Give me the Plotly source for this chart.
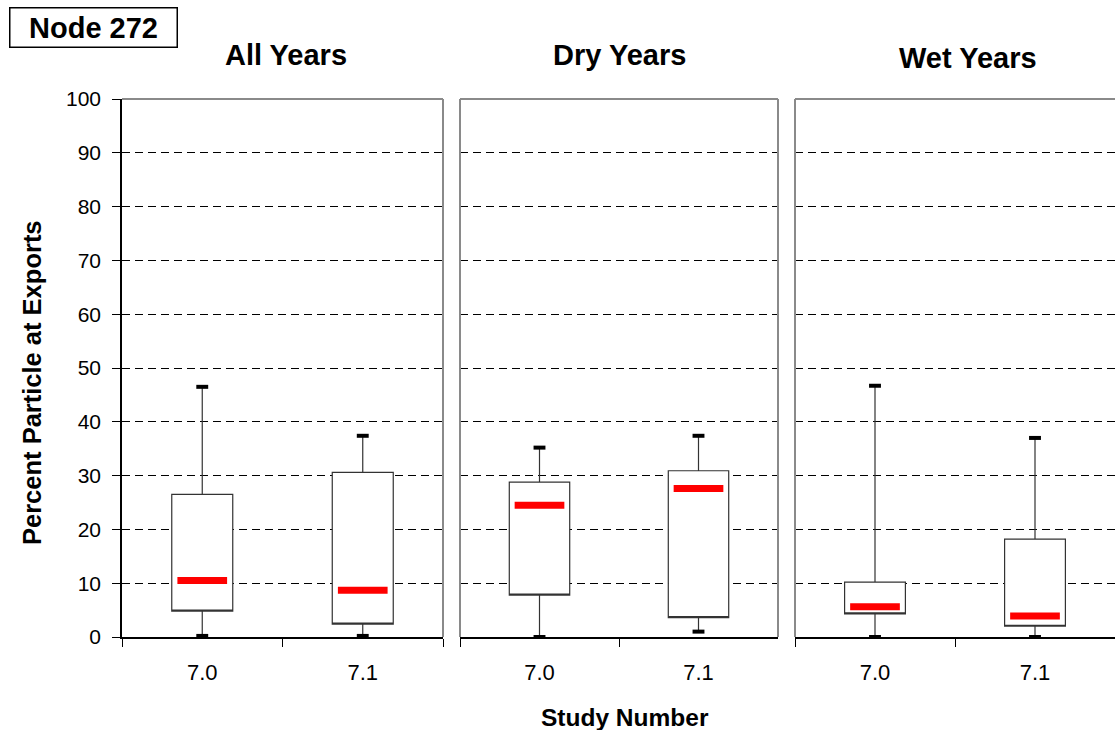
import plotly.graph_objects as go

# ---- data ----
categories = ["7.0", "7.1"]
panel_titles = ["All Years", "Dry Years", "Wet Years"]

all_min = [0.2, 0.2]
all_q1 = [4.8, 2.4]
all_med = [10.5, 8.7]
all_q3 = [26.5, 30.6]
all_max = [46.5, 37.4]

dry_min = [0.0, 1.0]
dry_q1 = [7.8, 3.6]
dry_med = [24.5, 27.6]
dry_q3 = [28.8, 30.9]
dry_max = [35.2, 37.4]

wet_min = [0.0, 0.0]
wet_q1 = [4.3, 2.0]
wet_med = [5.6, 3.9]
wet_q3 = [10.2, 18.2]
wet_max = [46.7, 37.0]

y_ticks = [0, 10, 20, 30, 40, 50, 60, 70, 80, 90, 100]

panels = [
    (all_min, all_q1, all_med, all_q3, all_max),
    (dry_min, dry_q1, dry_med, dry_q3, dry_max),
    (wet_min, wet_q1, wet_med, wet_q3, wet_max),
]

W, H = 1115, 730
FONT = "Liberation Sans, Arial, sans-serif"

x_domains = [(122 / W, 443 / W), (460 / W, 778 / W), (795 / W, 1.0)]
y_domain = (1 - 637 / H, 1 - 99 / H)

fig = go.Figure()

for i, (mn, q1, md, q3, mx) in enumerate(panels):
    xa = "x" if i == 0 else f"x{i+1}"
    ya = "y" if i == 0 else f"y{i+1}"
    # box body + whiskers (the median is drawn separately as a red bar,
    # so the box's own median line is folded onto q1 to keep it hidden)
    fig.add_trace(go.Box(
        x=categories, q1=q1, median=q1, q3=q3, lowerfence=mn, upperfence=mx,
        xaxis=xa, yaxis=ya, width=0.38, whiskerwidth=0,
        fillcolor="white", line=dict(color="#333333", width=1.2),
        boxpoints=False, hoverinfo="skip", showlegend=False,
    ))
    # whisker caps
    fig.add_trace(go.Scatter(
        x=categories + categories, y=mn + mx, mode="markers",
        xaxis=xa, yaxis=ya, cliponaxis=False,
        marker=dict(symbol="line-ew", size=8.5, color="black",
                    line=dict(color="black", width=4)),
        hoverinfo="skip", showlegend=False,
    ))
    # red median bars
    fig.add_trace(go.Scatter(
        x=categories, y=md, mode="markers",
        xaxis=xa, yaxis=ya, cliponaxis=False,
        marker=dict(symbol="line-ew", size=35.5, color="red",
                    line=dict(color="red", width=7)),
        hoverinfo="skip", showlegend=False,
    ))

layout = dict(
    width=W, height=H,
    margin=dict(l=0, r=0, t=0, b=0),
    paper_bgcolor="white", plot_bgcolor="white",
    font=dict(family=FONT, color="black"),
    showlegend=False,
)

for i in range(3):
    xk = "xaxis" if i == 0 else f"xaxis{i+1}"
    yk = "yaxis" if i == 0 else f"yaxis{i+1}"
    ya = "y" if i == 0 else f"y{i+1}"
    layout[xk] = dict(
        domain=list(x_domains[i]), anchor=ya, type="category",
        categoryorder="array", categoryarray=categories,
        range=[-0.5, 1.5], tickson="boundaries", ticks="outside",
        ticklen=8, tickwidth=1.2, tickcolor="black",
        showline=True, linecolor="black", linewidth=1.5,
        showgrid=False, zeroline=False, fixedrange=True,
        tickfont=dict(size=22, family=FONT), ticklabelstandoff=15,
        automargin=False,
    )
    layout[yk] = dict(
        domain=list(y_domain), anchor="x" if i == 0 else f"x{i+1}",
        range=[0, 100], tickvals=y_ticks,
        showgrid=True, gridcolor="black", gridwidth=1, griddash="8px,5px",
        zeroline=False, fixedrange=True, automargin=False,
        showline=(i == 0), linecolor="black", linewidth=1.5,
        ticks="outside" if i == 0 else "", ticklen=8, tickwidth=1.2,
        tickcolor="black", showticklabels=(i == 0),
        tickfont=dict(size=21, family=FONT), ticklabelstandoff=7,
    )

fig.update_layout(**layout)

# gray frame lines (top / sides) for each panel
shapes = []
for i in range(3):
    xr = "x domain" if i == 0 else f"x{i+1} domain"
    yr = "y domain" if i == 0 else f"y{i+1} domain"
    style = dict(type="line", xref=xr, yref=yr, layer="above",
                 line=dict(color="#8a8a8a", width=2))
    shapes.append(dict(x0=0, x1=1, y0=1, y1=1, **style))
    if i < 2:
        shapes.append(dict(x0=1, x1=1, y0=0, y1=1, **style))
    if i > 0:
        shapes.append(dict(x0=0, x1=0, y0=0, y1=1, **style))
fig.update_layout(shapes=shapes)

annotations = []
title_pos = [(286, 55), (619, 55), (968, 58)]
for t, (px, py) in zip(panel_titles, title_pos):
    annotations.append(dict(
        text=f"<b>{t}</b>", x=px / W, y=1 - py / H, xref="paper", yref="paper",
        showarrow=False, xanchor="center", yanchor="middle",
        font=dict(size=29, family=FONT, color="black"),
    ))
annotations.append(dict(
    text="<b>Node 272</b>", x=93.5 / W, y=1 - 28 / H, xref="paper", yref="paper",
    showarrow=False, xanchor="center", yanchor="middle",
    width=166, height=38, borderpad=0, bordercolor="black", borderwidth=1.5,
    bgcolor="white", font=dict(size=29, family=FONT, color="black"),
))
annotations.append(dict(
    text="<b>Percent Particle at Exports</b>", x=32 / W, y=1 - 383 / H,
    xref="paper", yref="paper", showarrow=False, textangle=-90,
    xanchor="center", yanchor="middle",
    font=dict(size=25.5, family=FONT, color="black"),
))
annotations.append(dict(
    text="<b>Study Number</b>", x=625 / W, y=1 - 717 / H,
    xref="paper", yref="paper", showarrow=False,
    xanchor="center", yanchor="middle",
    font=dict(size=24.5, family=FONT, color="black"),
))
fig.update_layout(annotations=annotations)

fig.write_html("out.html", config={"displayModeBar": False})
